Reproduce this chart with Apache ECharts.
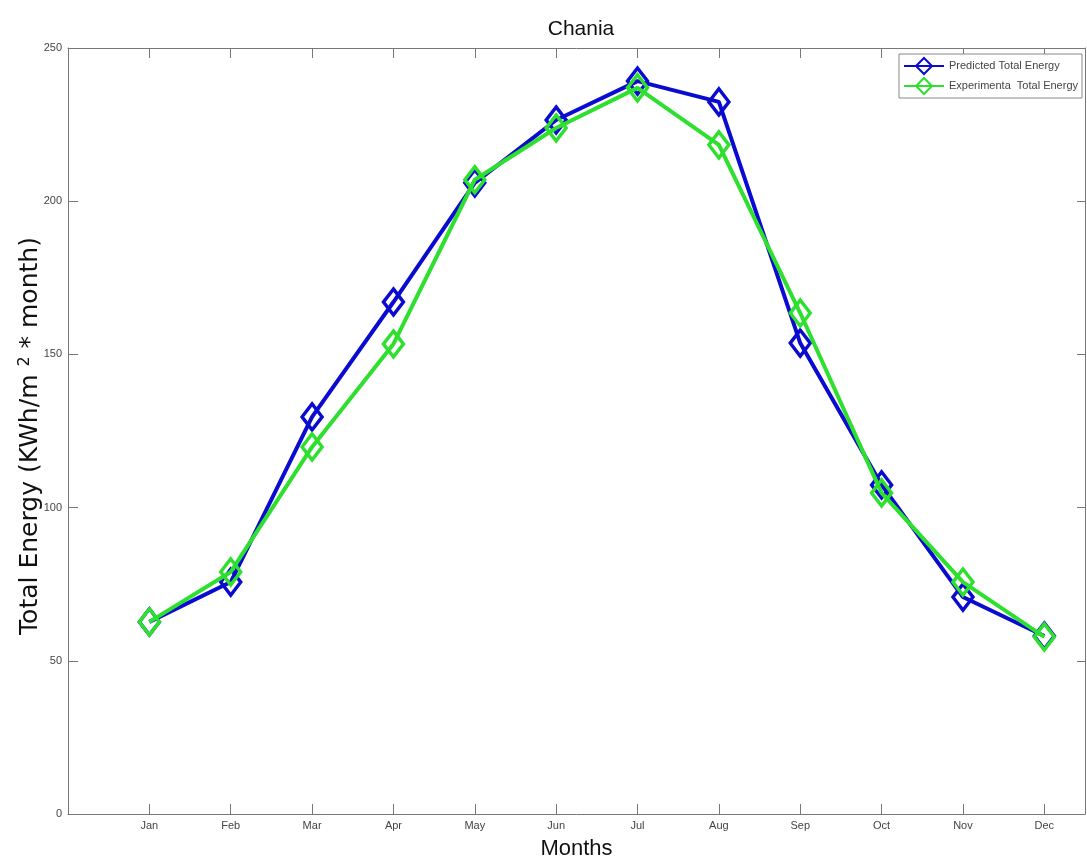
<!DOCTYPE html>
<html>
<head>
<meta charset="utf-8">
<script src="https://cdn.jsdelivr.net/npm/echarts@6/dist/echarts.min.js"></script>
<style>html,body{margin:0;padding:0;background:#fff;}#c{width:1087px;height:865px;}</style>
</head>
<body>
<div id="c"></div>
<script>
const months = ['Jan','Feb','Mar','Apr','May','Jun','Jul','Aug','Sep','Oct','Nov','Dec'];
const predicted = [62.7, 75.7, 129.6, 167.1, 206, 226.5, 239.2, 232.4, 153.7, 107.4, 70.8, 58.1];
const experimental = [62.7, 79, 119.8, 153.4, 207, 223.9, 237, 218.4, 163.5, 104.8, 75.7, 57.8];
const yTicks = [0, 50, 100, 150, 200, 250];

const toPts = arr => arr.map((v, i) => [i + 1, v]);
const axisColor = '#777';
const labelFont = {color: '#444', fontSize: 11, fontFamily: 'Liberation Sans Narrow, Liberation Sans, sans-serif'};
const nameFont = 'DejaVu Sans, sans-serif';

const chart = echarts.init(document.getElementById('c'));
chart.setOption({
  animation: false,
  backgroundColor: '#fff',
  title: {
    text: 'Chania', left: 576, top: 14, textAlign: 'center',
    textStyle: {fontSize: 21, fontWeight: 'normal', color: '#111', fontFamily: 'Liberation Sans, Arial, sans-serif'}
  },
  graphic: [{
    type: 'text', x: 30, y: 436, rotation: Math.PI / 2,
    style: {
      text: '{a|Total Energy (KWh/m }{s|2}{a| * month)}',
      align: 'center', verticalAlign: 'middle',
      rich: {
        a: {fontSize: 25, fill: '#111', fontFamily: nameFont},
        s: {fontSize: 16, fill: '#111', verticalAlign: 'top', padding: [0, 0, 11, 0], fontFamily: nameFont}
      }
    }
  }],
  grid: {left: 68, right: 2, top: 48, bottom: 51, containLabel: false, outerBoundsMode: 'none'},
  legend: {
    orient: 'vertical', right: 5, top: 54,
    backgroundColor: '#fff', borderColor: '#888', borderWidth: 1,
    padding: [3, 4, 3, 4], itemGap: 2, itemWidth: 40, itemHeight: 20,
    textStyle: {fontSize: 11, color: '#444', fontFamily: 'Liberation Sans Narrow, Liberation Sans, sans-serif'},
    data: ['Predicted Total Energy', 'Experimenta  Total Energy']
  },
  xAxis: [{
    type: 'value', min: 0, max: 12.5, interval: 1, position: 'bottom',
    name: 'Months', nameLocation: 'middle', nameGap: 24,
    nameTextStyle: {fontSize: 22, color: '#111', fontFamily: 'Liberation Sans, Arial, sans-serif'},
    axisLine: {show: true, onZero: false, lineStyle: {color: axisColor, width: 1}},
    axisTick: {show: true, inside: true, length: 10, lineStyle: {color: axisColor}},
    splitLine: {show: false},
    axisLabel: Object.assign({margin: 6, showMaxLabel: false, formatter: v => (v >= 1 && v <= 12 && Number.isInteger(v)) ? months[v - 1] : ''}, labelFont)
  }, {
    type: 'value', min: 0, max: 12.5, interval: 1, position: 'top',
    axisLine: {show: true, onZero: false, lineStyle: {color: axisColor, width: 1}},
    axisTick: {show: true, inside: true, length: 10, lineStyle: {color: axisColor}},
    splitLine: {show: false}, axisLabel: {show: false}
  }],
  yAxis: [{
    type: 'value', min: 0, max: 250, interval: 50, position: 'left',
    axisLine: {show: true, onZero: false, lineStyle: {color: axisColor, width: 1}},
    axisTick: {show: true, inside: true, length: 10, lineStyle: {color: axisColor}},
    splitLine: {show: false},
    axisLabel: Object.assign({margin: 6, formatter: v => yTicks.includes(v) ? String(v) : ''}, labelFont)
  }, {
    type: 'value', min: 0, max: 250, interval: 50, position: 'right',
    axisLine: {show: true, onZero: false, lineStyle: {color: axisColor, width: 1}},
    axisTick: {show: true, inside: true, length: 8, lineStyle: {color: axisColor}},
    splitLine: {show: false}, axisLabel: {show: false}
  }],
  series: [{
    name: 'Predicted Total Energy', type: 'line', xAxisIndex: 0, yAxisIndex: 0,
    data: toPts(predicted),
    lineStyle: {color: '#0a0ad0', width: 4},
    symbol: 'diamond', symbolSize: [20, 26], showAllSymbol: true,
    itemStyle: {color: 'rgba(255,255,255,0)', borderColor: '#0a0ad0', borderWidth: 3.5},
    z: 2
  }, {
    name: 'Experimenta  Total Energy', type: 'line', xAxisIndex: 0, yAxisIndex: 0,
    data: toPts(experimental),
    lineStyle: {color: '#2ee02e', width: 4},
    symbol: 'diamond', symbolSize: [20, 26], showAllSymbol: true,
    itemStyle: {color: 'rgba(255,255,255,0)', borderColor: '#2ee02e', borderWidth: 3.5},
    z: 3
  }]
});
</script>
</body>
</html>
